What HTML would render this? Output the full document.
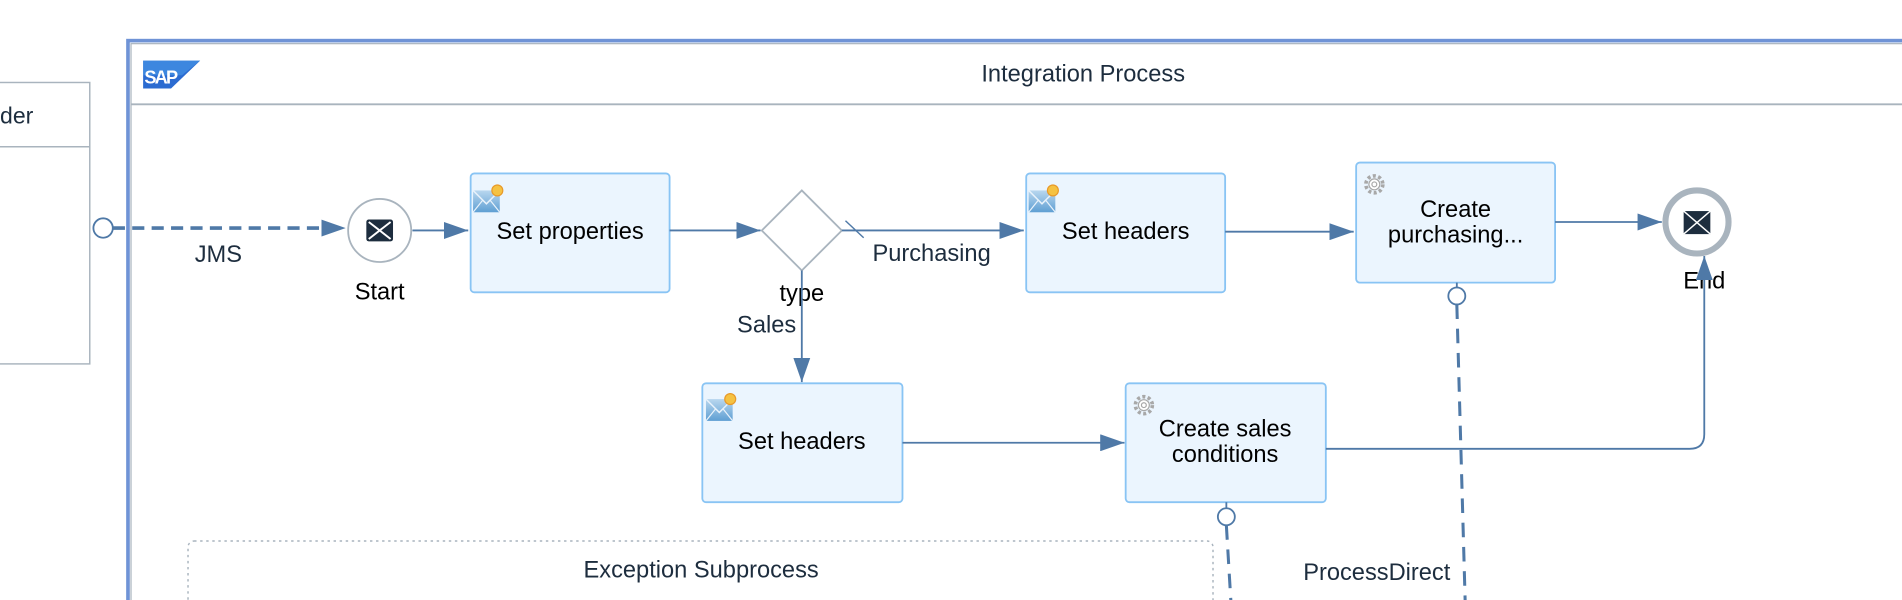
<!DOCTYPE html>
<html><head><meta charset="utf-8"><style>
html,body{margin:0;padding:0;background:#fff;width:1902px;height:600px;overflow:hidden;}
svg{display:block;}
text{font-family:"Liberation Sans",Arial,sans-serif;}
</style></head><body>
<svg width="1902" height="600" viewBox="0 0 1568 494.64" xmlns="http://www.w3.org/2000/svg">
<defs>
<marker id="arb" markerWidth="20" markerHeight="14" refX="20" refY="7" orient="auto" markerUnits="userSpaceOnUse">
<path d="M0,0 L20,7 L0,14 z" fill="#4f79a7"/>
</marker>
<linearGradient id="env" x1="0" y1="0" x2="0" y2="1"><stop offset="0" stop-color="#b9d7ef"/><stop offset="1" stop-color="#5f9fd3"/></linearGradient>
<g id="mail">
<rect x="0" y="5" width="22" height="18" fill="url(#env)"/>
<path d="M0,5 L11,16 L22,5" fill="none" stroke="#e8f2fb" stroke-width="1.2"/>
<path d="M0,23 L8,13 M22,23 L14,13" stroke="#e8f2fb" stroke-width="1"/>
<circle cx="20" cy="5" r="4.5" fill="#f5c242" stroke="#e89a2a" stroke-width="1"/>
</g>
<g id="gear">
<circle cx="0" cy="0" r="7" fill="none" stroke="#a8a8a8" stroke-width="3" stroke-dasharray="2.5 2"/>
<circle cx="0" cy="0" r="4.5" fill="#fff" stroke="#a8a8a8" stroke-width="1"/>
<circle cx="0" cy="0" r="2" fill="none" stroke="#a8a8a8" stroke-width="1"/>
</g>
</defs>

<rect x="-10" y="68" width="84" height="232" fill="#fff" stroke="#a9b4be" stroke-width="1.2"/>
<line x1="-10" y1="121" x2="74" y2="121" stroke="#a9b4be" stroke-width="1.2"/>
<text x="0" y="102" font-size="19" fill="#1d2d3e">der</text>

<rect x="105.5" y="33.5" width="1480" height="480" fill="#fff" stroke="#6f93d6" stroke-width="3"/>
<rect x="108" y="36" width="1480" height="480" fill="none" stroke="#a9b4be" stroke-width="1"/>
<line x1="108" y1="86" x2="1568" y2="86" stroke="#a9b4be" stroke-width="1.5"/>
<path d="M118,50 L165,50 L141,73 L118,73 z" fill="#2b6bd1"/>
<path d="M118,50 L165,50 L150,62 L118,62 z" fill="#4a9ae8" opacity="0.6"/>
<text x="119" y="69" font-size="15" font-weight="bold" fill="#fff" letter-spacing="-1.5">SAP</text>
<text x="893" y="67" font-size="19.5" fill="#1d2d3e" text-anchor="middle">Integration Process</text>

<line x1="93" y1="188" x2="285" y2="188" stroke="#4f79a7" stroke-width="3" stroke-dasharray="10 6" marker-end="url(#arb)"/>
<circle cx="85" cy="188" r="8" fill="#fff" stroke="#4f79a7" stroke-width="1.5"/>
<text x="180" y="216" font-size="19.5" fill="#1d2d3e" text-anchor="middle">JMS</text>

<circle cx="313" cy="190" r="26" fill="#fff" stroke="#a9b4be" stroke-width="1.5"/>
<rect x="302" y="181" width="22" height="18" rx="2" fill="#1d2d3e"/>
<path d="M304,183 L322,197 M322,183 L304,197" stroke="#fff" stroke-width="1.6"/>
<text x="313" y="247" font-size="19.5" fill="#000" text-anchor="middle">Start</text>
<line x1="340" y1="190" x2="386" y2="190" stroke="#4f79a7" stroke-width="1.5" marker-end="url(#arb)"/>

<rect x="388" y="143" width="164" height="98" rx="3" fill="#ebf5fe" stroke="#89c4f4" stroke-width="1.5"/>
<use href="#mail" x="390" y="152"/>
<text x="470" y="197" font-size="19.5" fill="#000" text-anchor="middle">Set properties</text>
<line x1="552" y1="190" x2="627" y2="190" stroke="#4f79a7" stroke-width="1.5" marker-end="url(#arb)"/>

<path d="M661,157 L694,190 L661,223 L628,190 z" fill="#fff" stroke="#a9b4be" stroke-width="1.5"/>
<text x="661" y="248" font-size="19.5" fill="#000" text-anchor="middle">type</text>
<text x="632" y="274" font-size="19.5" fill="#1d2d3e" text-anchor="middle">Sales</text>

<line x1="694" y1="190" x2="844" y2="190" stroke="#4f79a7" stroke-width="1.5" marker-end="url(#arb)"/>
<line x1="697" y1="182" x2="712" y2="196" stroke="#4f79a7" stroke-width="1.2"/>
<text x="768" y="215" font-size="19.5" fill="#1d2d3e" text-anchor="middle">Purchasing</text>

<rect x="846" y="143" width="164" height="98" rx="3" fill="#ebf5fe" stroke="#89c4f4" stroke-width="1.5"/>
<use href="#mail" x="848" y="152"/>
<text x="928" y="197" font-size="19.5" fill="#000" text-anchor="middle">Set headers</text>
<line x1="1010" y1="191" x2="1116" y2="191" stroke="#4f79a7" stroke-width="1.5" marker-end="url(#arb)"/>

<rect x="1118" y="134" width="164" height="99" rx="3" fill="#ebf5fe" stroke="#89c4f4" stroke-width="1.5"/>
<use href="#gear" x="1133" y="152"/>
<text x="1200" y="179" font-size="19.5" fill="#000" text-anchor="middle">Create</text>
<text x="1200" y="200" font-size="19.5" fill="#000" text-anchor="middle">purchasing...</text>
<line x1="1282" y1="183" x2="1370" y2="183" stroke="#4f79a7" stroke-width="1.5" marker-end="url(#arb)"/>

<circle cx="1399" cy="183" r="26" fill="#fff" stroke="#a9b4be" stroke-width="5"/>
<rect x="1388" y="174" width="22" height="19" fill="#1d2d3e"/>
<path d="M1388,174 L1410,193 M1410,174 L1388,193" stroke="#fff" stroke-width="1.2"/>
<text x="1405" y="238" font-size="19.5" fill="#000" text-anchor="middle">End</text>

<line x1="661" y1="223" x2="661" y2="315" stroke="#4f79a7" stroke-width="1.5" marker-end="url(#arb)"/>

<rect x="579" y="316" width="165" height="98" rx="3" fill="#ebf5fe" stroke="#89c4f4" stroke-width="1.5"/>
<use href="#mail" x="582" y="324"/>
<text x="661" y="370" font-size="19.5" fill="#000" text-anchor="middle">Set headers</text>
<line x1="744" y1="365" x2="927" y2="365" stroke="#4f79a7" stroke-width="1.5" marker-end="url(#arb)"/>

<rect x="928" y="316" width="165" height="98" rx="3" fill="#ebf5fe" stroke="#89c4f4" stroke-width="1.5"/>
<use href="#gear" x="943" y="334"/>
<text x="1010" y="360" font-size="19.5" fill="#000" text-anchor="middle">Create sales</text>
<text x="1010" y="381" font-size="19.5" fill="#000" text-anchor="middle">conditions</text>
<path d="M1093,370 L1393,370 Q1405,370 1405,358 L1405,211" fill="none" stroke="#4f79a7" stroke-width="1.5" marker-end="url(#arb)"/>

<line x1="1201" y1="251" x2="1208" y2="500" stroke="#4f79a7" stroke-width="2.5" stroke-dasharray="12 8"/>
<line x1="1201" y1="233" x2="1201" y2="237" stroke="#4f79a7" stroke-width="1.5"/>
<circle cx="1201" cy="244" r="7" fill="#fff" stroke="#4f79a7" stroke-width="1.5"/>
<line x1="1011" y1="433" x2="1015" y2="500" stroke="#4f79a7" stroke-width="2.5" stroke-dasharray="12 8"/>
<line x1="1011" y1="414" x2="1011" y2="419" stroke="#4f79a7" stroke-width="1.5"/>
<circle cx="1011" cy="426" r="7" fill="#fff" stroke="#4f79a7" stroke-width="1.5"/>
<text x="1135" y="478" font-size="19.5" fill="#1d2d3e" text-anchor="middle">ProcessDirect</text>

<rect x="155" y="446" width="845" height="80" rx="5" fill="none" stroke="#a9b4be" stroke-width="1.2" stroke-dasharray="2 3"/>
<text x="578" y="476" font-size="19.5" fill="#1d2d3e" text-anchor="middle">Exception Subprocess</text>
</svg>
</body></html>
